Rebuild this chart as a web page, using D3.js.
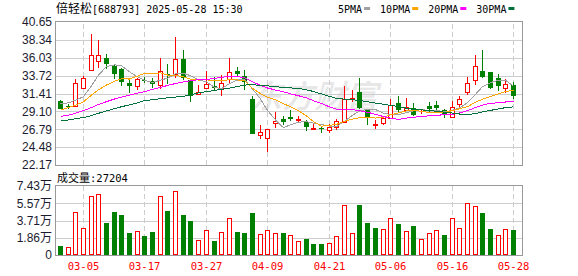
<!DOCTYPE html>
<html>
<head>
<meta charset="utf-8">
<script src="https://cdn.jsdelivr.net/npm/d3@7"></script>
<style>
    body { margin: 0; background: #fff; }
</style>
</head>
<body>
<div id="chart"></div>
<script>

// trading days shown (month-day)
var dates = ['02-28', '03-03', '03-04', '03-05', '03-06', '03-07', '03-10', '03-11', '03-12', '03-13',
    '03-14', '03-17', '03-18', '03-19', '03-20', '03-21', '03-24', '03-25', '03-26', '03-27',
    '03-28', '03-31', '04-01', '04-02', '04-03', '04-07', '04-08', '04-09', '04-10', '04-11',
    '04-14', '04-15', '04-16', '04-17', '04-18', '04-21', '04-22', '04-23', '04-24', '04-25',
    '04-28', '04-29', '04-30', '05-06', '05-07', '05-08', '05-09', '05-12', '05-13', '05-14',
    '05-15', '05-16', '05-19', '05-20', '05-21', '05-22', '05-23', '05-26', '05-27', '05-28'];

var opens = [30.42, 29.75, 29.78, 32.18, 34.50, 35.67, 36.05, 35.02, 34.63, 32.74,
    32.44, 33.20, 33.00, 32.57, 33.95, 33.99, 35.92, 33.13, 31.37, 32.14,
    32.40, 32.18, 33.30, 34.29, 33.65, 30.68, 26.08, 25.61, 27.54, 28.06,
    28.40, 28.02, 27.72, 26.77, 26.90, 26.64, 27.03, 27.72, 30.68, 31.58,
    29.43, 27.40, 27.54, 28.30, 30.13, 29.30, 29.50, 29.00, 29.78, 29.91,
    29.26, 28.32, 30.00, 31.55, 33.09, 34.38, 34.16, 33.39, 32.06, 32.45];

var highs = [30.55, 30.00, 33.34, 33.69, 39.15, 38.29, 36.52, 35.28, 34.72, 33.34,
    33.47, 33.50, 33.47, 35.97, 35.19, 38.72, 37.00, 33.34, 32.49, 34.29,
    33.56, 33.77, 35.97, 34.85, 34.40, 31.07, 27.33, 26.85, 28.96, 28.53,
    29.26, 28.49, 27.97, 27.46, 27.20, 27.46, 28.15, 32.36, 31.85, 33.47,
    29.43, 27.97, 28.28, 30.70, 31.07, 30.80, 30.13, 29.40, 30.30, 30.47,
    29.35, 30.47, 31.07, 33.48, 36.36, 37.00, 34.16, 33.90, 33.22, 32.91];

var lows = [29.35, 29.45, 29.69, 32.06, 34.42, 34.72, 34.59, 33.26, 32.40, 31.45,
    31.88, 32.75, 32.14, 31.93, 32.70, 33.47, 33.13, 30.34, 31.37, 31.93,
    31.75, 31.07, 32.74, 33.65, 31.80, 26.13, 25.57, 23.80, 26.90, 27.33,
    27.89, 27.72, 26.60, 26.77, 26.35, 26.34, 26.68, 27.54, 30.34, 29.35,
    27.33, 26.77, 27.37, 28.20, 28.99, 29.18, 28.49, 28.80, 29.05, 29.13,
    28.27, 28.32, 29.35, 31.24, 32.49, 33.43, 31.97, 31.75, 31.50, 30.64];

var closes = [29.43, 29.65, 32.83, 33.47, 36.44, 36.44, 35.24, 33.95, 32.96, 32.40,
    33.22, 33.05, 32.61, 34.37, 33.77, 35.88, 33.47, 31.07, 31.63, 32.61,
    32.10, 32.83, 34.25, 33.95, 32.85, 26.13, 26.38, 26.81, 27.84, 27.76,
    28.06, 28.10, 27.11, 26.90, 26.80, 27.03, 27.80, 30.64, 30.77, 29.48,
    28.32, 27.50, 28.28, 29.95, 29.30, 29.70, 28.64, 29.05, 29.35, 29.52,
    28.62, 29.61, 30.64, 32.71, 34.98, 33.56, 32.14, 32.32, 32.62, 31.11];

// close of the day before the first one shown (colours the first volume bar)
var prevClose = 30.20;

// volume, in 万 (10k lots)
var volumes = [0.97, 0.83, 4.60, 2.87, 6.32, 6.53, 3.45, 4.63, 4.31, 2.37,
    2.55, 2.05, 2.48, 6.32, 4.74, 6.86, 4.31, 3.66, 1.58, 2.66,
    1.51, 2.44, 3.95, 2.48, 2.37, 4.52, 2.23, 2.66, 2.33, 2.37,
    2.12, 1.51, 1.69, 1.18, 1.18, 1.26, 2.01, 5.35, 2.33, 5.38,
    3.45, 2.91, 2.76, 3.95, 3.34, 2.55, 3.12, 1.69, 2.33, 2.66,
    2.12, 3.95, 2.87, 5.56, 5.24, 4.52, 2.80, 2.12, 2.76, 2.7204];

var lastVolume = 27204;

// moving averages as drawn
var ma5 = [30.10, 30.20, 30.55, 31.00, 32.40, 33.80, 34.88, 35.11, 35.01, 34.20,
    33.55, 33.12, 32.85, 33.13, 33.40, 33.94, 34.02, 33.71, 33.16, 32.93,
    32.18, 32.05, 32.68, 33.15, 33.20, 32.00, 30.71, 29.22, 28.00, 26.98,
    27.37, 27.71, 27.77, 27.59, 27.39, 27.19, 27.13, 27.83, 28.61, 29.14,
    29.40, 29.34, 28.87, 28.71, 28.67, 28.95, 29.17, 29.33, 29.21, 29.25,
    29.04, 29.23, 29.55, 30.22, 31.31, 32.30, 32.81, 33.14, 33.12, 32.35];

var ma10 = [29.26, 29.60, 29.90, 30.33, 31.20, 31.90, 32.50, 33.00, 33.30, 33.28,
    33.66, 34.00, 33.98, 34.07, 33.80, 33.75, 33.57, 33.28, 33.15, 33.17,
    33.06, 33.03, 33.20, 33.16, 33.06, 32.09, 31.38, 30.95, 30.58, 30.09,
    29.69, 29.21, 28.50, 27.79, 27.19, 27.28, 27.42, 27.80, 28.10, 28.27,
    28.30, 28.24, 28.35, 28.66, 28.91, 29.17, 29.26, 29.10, 28.96, 28.96,
    28.99, 29.20, 29.44, 29.71, 30.28, 30.67, 31.02, 31.35, 31.67, 31.83];

var ma20 = [28.45, 28.60, 28.85, 29.20, 29.60, 30.00, 30.35, 30.70, 30.95, 31.20,
    31.45, 31.65, 31.95, 32.20, 32.45, 32.70, 32.90, 33.05, 33.20, 33.22,
    33.36, 33.52, 33.59, 33.61, 33.43, 32.92, 32.47, 32.12, 31.86, 31.63,
    31.37, 31.12, 30.85, 30.48, 30.13, 29.68, 29.40, 29.38, 29.34, 29.18,
    28.99, 28.72, 28.43, 28.23, 28.05, 28.23, 28.34, 28.45, 28.53, 28.62,
    28.64, 28.72, 28.90, 29.19, 29.59, 29.92, 30.14, 30.22, 30.31, 30.40];

var ma30 = [27.85, 28.00, 28.15, 28.30, 28.55, 28.85, 29.15, 29.45, 29.70, 29.95,
    30.20, 30.50, 30.60, 30.75, 30.85, 30.95, 31.05, 31.20, 31.50, 31.65,
    31.80, 31.95, 32.10, 32.30, 32.50, 32.55, 32.45, 32.40, 32.30, 32.18,
    32.13, 32.08, 31.89, 31.67, 31.35, 31.04, 30.79, 30.68, 30.61, 30.51,
    30.35, 30.16, 30.02, 29.87, 29.72, 29.51, 29.35, 29.29, 29.21, 29.11,
    28.99, 28.88, 28.76, 28.72, 28.79, 29.04, 29.23, 29.42, 29.58, 29.69];

var maNames = ['5PMA', '10PMA', '20PMA', '30PMA'];

// axis ticks
var priceTicks = [40.65, 38.34, 36.03, 33.72, 31.41, 29.10, 26.79, 24.48, 22.17];
var volTicks = [7.43, 5.57, 3.71, 1.86, 0];
var volTickLabels = ['7.43万', '5.57万', '3.71万', '1.86万', '0'];
var dateTicks = ['03-05', '03-17', '03-27', '04-09', '04-21', '05-06', '05-16', '05-28'];


function getChart(params) {
    var attrs = {
        svgWidth: 578,
        svgHeight: 276,
        plotLeft: 56,
        plotRight: 522,
        bandRight: 517,
        priceTop: 22,
        priceBottom: 165,
        volTop: 186,
        volBottom: 255,
        up: '#ff0000',
        down: '#008000',
        frame: '#999999',
        grid: '#cdcdcd',
        maColors: ['#a0a0a0', '#ffa500', '#ff00ff', '#00703c'],
        cjk: '"Noto Sans CJK SC", sans-serif',
        mono: '"DejaVu Sans Mono", monospace',
        sans: '"Liberation Sans", Arial, "Noto Sans CJK SC", sans-serif'
    };

    Object.keys(attrs).forEach(function (key) {
        if (params && params[key]) attrs[key] = params[key];
    });

    var main = function (selection) {
        selection.each(function () {

            var rows = dates.map(function (d, i) {
                return {
                    date: d, i: i,
                    open: opens[i], high: highs[i], low: lows[i], close: closes[i],
                    vol: volumes[i],
                    volUp: closes[i] >= (i ? closes[i - 1] : prevClose)
                };
            });

            /* ############# SCALES ############### */

            var x = d3.scaleBand()
                .domain(dates)
                .range([attrs.plotLeft, attrs.bandRight]);

            var yPrice = d3.scaleLinear()
                .domain([d3.min(priceTicks), d3.max(priceTicks)])
                .range([attrs.priceBottom, attrs.priceTop]);

            var yVol = d3.scaleLinear()
                .domain([0, d3.max(volTicks)])
                .range([attrs.volBottom, attrs.volTop]);

            var cx = function (d) { return Math.round(x(d) + x.bandwidth() / 2); };
            var plotW = attrs.plotRight - attrs.plotLeft;

            var svg = d3.select(this)
                .append('svg')
                .attr('width', attrs.svgWidth)
                .attr('height', attrs.svgHeight)
                .style('display', 'block');

            /* ############# TITLE + LEGEND ############### */

            var title = svg.append('text')
                .attr('x', 56)
                .attr('y', 13)
                .attr('fill', '#000');
            title.append('tspan').attr('font-family', attrs.cjk).attr('font-size', 12).text('倍轻松');
            title.append('tspan').attr('font-family', attrs.mono).attr('font-size', 10).text('[688793] 2025-05-28 15:30');

            var legend = svg.append('g');
            var lx = 338;
            maNames.forEach(function (name, k) {
                var t = legend.append('text')
                    .attr('x', lx)
                    .attr('y', 12.5)
                    .attr('font-family', attrs.mono)
                    .attr('font-size', 10)
                    .attr('fill', '#000')
                    .text(name);
                var w = t.node().getComputedTextLength();
                legend.append('rect')
                    .attr('x', lx + w + 2)
                    .attr('y', 7)
                    .attr('width', 6)
                    .attr('height', 3)
                    .attr('fill', attrs.maColors[k]);
                lx += w + 18;
            });

            /* ############# WATERMARK ############### */

            svg.append('text')
                .attr('x', 250)
                .attr('y', 108)
                .attr('font-family', attrs.cjk)
                .attr('font-size', 32)
                .attr('font-weight', 'bold')
                .attr('font-style', 'italic')
                .attr('fill', '#000')
                .attr('fill-opacity', 0.09)
                .text('东方财富');

            /* ############# GRID + AXES ############### */

            // horizontal grid, price panel
            svg.append('g')
                .attr('transform', 'translate(' + attrs.plotLeft + ',0)')
                .call(d3.axisLeft(yPrice).tickValues(priceTicks.slice(1, -1)).tickSize(-plotW).tickFormat(''))
                .call(g => g.select('.domain').remove())
                .call(g => g.selectAll('line').attr('stroke', attrs.grid).attr('shape-rendering', 'crispEdges'));

            svg.append('g')
                .attr('transform', 'translate(' + attrs.plotLeft + ',0)')
                .call(d3.axisLeft(yVol).tickValues(volTicks.slice(1, -1)).tickSize(-plotW).tickFormat(''))
                .call(g => g.select('.domain').remove())
                .call(g => g.selectAll('line').attr('stroke', attrs.grid).attr('shape-rendering', 'crispEdges'));

            // vertical dashed grid in both panels
            [[attrs.priceTop, attrs.priceBottom], [attrs.volTop, attrs.volBottom]].forEach(function (p) {
                svg.append('g')
                    .attr('transform', 'translate(0,' + p[1] + ')')
                    .call(d3.axisBottom(x).tickValues(dateTicks).tickSize(-(p[1] - p[0])).tickFormat(''))
                    .call(g => g.select('.domain').remove())
                    .call(g => g.selectAll('.tick').attr('transform', d => 'translate(' + (cx(d) + 0.5) + ',0)'))
                    .call(g => g.selectAll('line').attr('stroke', attrs.grid).attr('stroke-dasharray', '5,3'));
            });

            // price labels
            svg.append('g')
                .attr('transform', 'translate(' + attrs.plotLeft + ',0)')
                .call(d3.axisLeft(yPrice).tickValues(priceTicks).tickSize(0).tickPadding(4).tickFormat(d3.format('.2f')))
                .call(g => g.select('.domain').remove())
                .call(g => g.selectAll('text').attr('font-family', attrs.sans).attr('font-size', 12).attr('fill', '#1c1c30'));

            // volume labels
            svg.append('g')
                .attr('transform', 'translate(' + attrs.plotLeft + ',0)')
                .call(d3.axisLeft(yVol).tickValues(volTicks).tickSize(0).tickPadding(4)
                    .tickFormat((d, i) => volTickLabels[i]))
                .call(g => g.select('.domain').remove())
                .call(g => g.selectAll('text').attr('font-family', attrs.sans).attr('font-size', 12).attr('fill', '#1c1c30'));

            // date labels
            svg.append('g')
                .attr('transform', 'translate(0,' + attrs.volBottom + ')')
                .call(d3.axisBottom(x).tickValues(dateTicks).tickSize(0).tickPadding(7.5))
                .call(g => g.select('.domain').remove())
                .call(g => g.selectAll('.tick').attr('transform', d => 'translate(' + (cx(d) + 0.5) + ',0)'))
                .call(g => g.selectAll('text').attr('font-family', attrs.mono).attr('font-size', 10.5).attr('fill', attrs.up));

            svg.append('text')
                .attr('x', 57)
                .attr('y', 182)
                .attr('fill', '#000')
                .call(t => t.append('tspan').attr('font-family', attrs.cjk).attr('font-size', 11).text('成交量'))
                .call(t => t.append('tspan').attr('font-family', attrs.mono).attr('font-size', 10.5).text(':' + lastVolume));

            /* ############# CANDLES ############### */

            var candles = svg.append('g').attr('shape-rendering', 'crispEdges');

            candles.selectAll('path.wick')
                .data(rows)
                .enter()
                .append('path')
                .attr('class', 'wick')
                .attr('fill', 'none')
                .attr('stroke', d => d.close >= d.open ? attrs.up : attrs.down)
                .attr('d', function (d) {
                    var c = cx(d.date) + 0.5;
                    var hi = Math.round(yPrice(d.high)), lo = Math.round(yPrice(d.low));
                    var top = Math.round(yPrice(Math.max(d.open, d.close)));
                    var bot = Math.round(yPrice(Math.min(d.open, d.close)));
                    if (d.close >= d.open) {
                        return 'M' + c + ',' + hi + 'V' + top + 'M' + c + ',' + bot + 'V' + lo;
                    }
                    return 'M' + c + ',' + hi + 'V' + lo;
                });

            candles.selectAll('rect.body')
                .data(rows)
                .enter()
                .append('rect')
                .attr('class', 'body')
                .each(function (d) {
                    var top = Math.round(yPrice(Math.max(d.open, d.close)));
                    var bot = Math.round(yPrice(Math.min(d.open, d.close)));
                    var c = cx(d.date);
                    var r = d3.select(this);
                    if (d.close >= d.open) {
                        r.attr('x', c - 1.5).attr('y', top + 0.5)
                            .attr('width', 4).attr('height', Math.max(bot - top, 0))
                            .attr('fill', '#fff').attr('stroke', attrs.up);
                    } else {
                        r.attr('x', c - 2).attr('y', top)
                            .attr('width', 5).attr('height', Math.max(bot - top, 1))
                            .attr('fill', attrs.down);
                    }
                });

            /* ############# MOVING AVERAGES ############### */

            var line = d3.line()
                .x((v, i) => cx(dates[i]) + 0.5)
                .y(v => yPrice(v));

            svg.append('g')
                .selectAll('path')
                .data([ma5, ma10, ma20, ma30])
                .enter()
                .append('path')
                .attr('fill', 'none')
                .attr('stroke', (d, k) => attrs.maColors[k])
                .attr('stroke-width', 1)
                .attr('shape-rendering', 'crispEdges')
                .attr('d', line);

            /* ############# VOLUME ############### */

            svg.append('g')
                .attr('shape-rendering', 'crispEdges')
                .selectAll('rect')
                .data(rows)
                .enter()
                .append('rect')
                .each(function (d) {
                    var top = Math.round(yVol(d.vol));
                    var c = cx(d.date);
                    var r = d3.select(this);
                    if (d.volUp) {
                        r.attr('x', c - 1.5).attr('y', top + 0.5)
                            .attr('width', 4).attr('height', attrs.volBottom - top - 1)
                            .attr('fill', '#fff').attr('stroke', attrs.up);
                    } else {
                        r.attr('x', c - 2).attr('y', top)
                            .attr('width', 5).attr('height', attrs.volBottom - top)
                            .attr('fill', attrs.down);
                    }
                });

            /* ############# FRAMES ############### */

            [[attrs.priceTop, attrs.priceBottom], [attrs.volTop, attrs.volBottom]].forEach(function (p) {
                svg.append('rect')
                    .attr('x', attrs.plotLeft - 0.5)
                    .attr('y', p[0] - 0.5)
                    .attr('width', plotW + 1)
                    .attr('height', p[1] - p[0] + 1)
                    .attr('fill', 'none')
                    .attr('stroke', attrs.frame)
                    .attr('stroke-width', 1)
                    .attr('shape-rendering', 'crispEdges');
            });
        });
    };

    return main;
}

d3.select('#chart').call(getChart({}));

</script>
</body>
</html>
